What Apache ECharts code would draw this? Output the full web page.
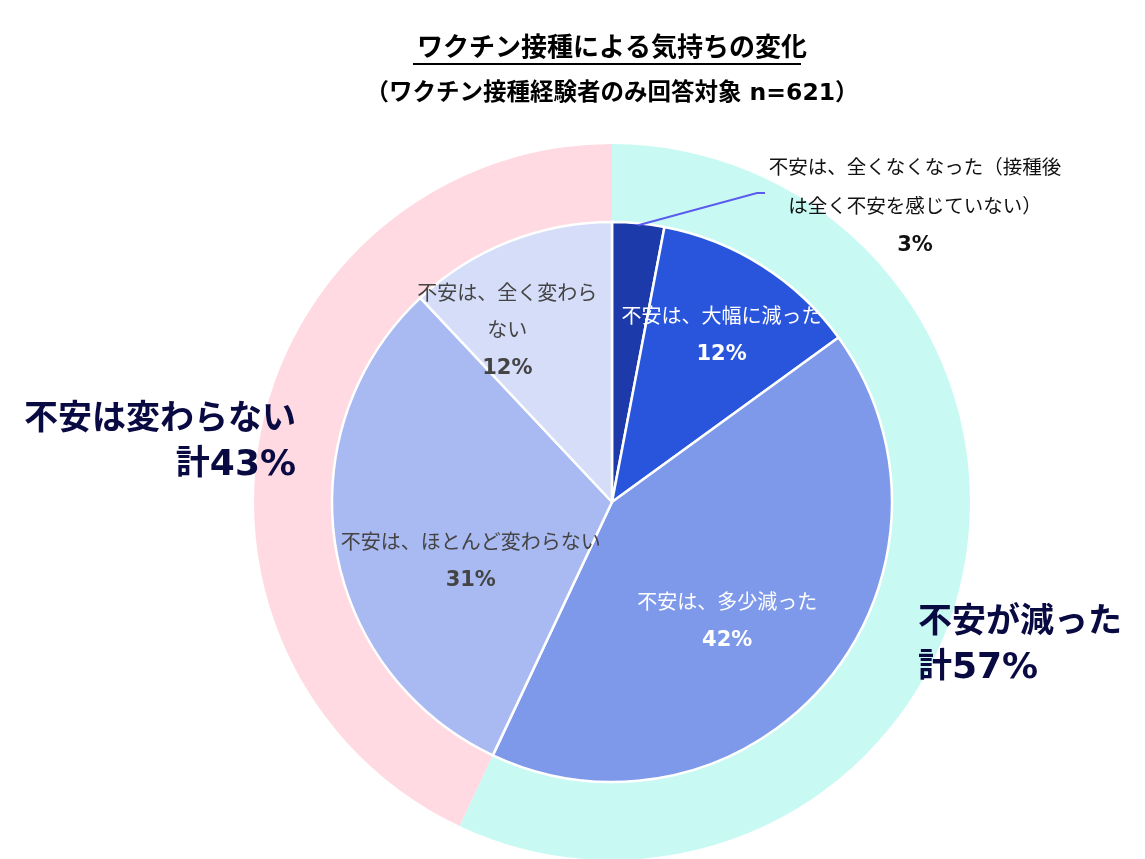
<!DOCTYPE html>
<html><head><meta charset="utf-8">
<script src="https://cdn.jsdelivr.net/npm/echarts@6/dist/echarts.min.js"></script>
<style>html,body{margin:0;padding:0;background:#fff}#c{width:1145px;height:859px}</style>
</head><body><div id="c"></div>
<script>
// ---- data ----
var titleText = 'ワクチン接種による気持ちの変化';
var subTitleText = '（ワクチン接種経験者のみ回答対象 n=621）';
var innerCategories = [
  '不安は、全くなくなった（接種後\nは全く不安を感じていない）',
  '不安は、大幅に減った',
  '不安は、多少減った',
  '不安は、ほとんど変わらない',
  '不安は、全く変わら\nない'
];
var innerValues = [3, 12, 42, 31, 12];
var outerCategories = ['不安が減った', '不安は変わらない'];
var outerValues = [57, 43];

// ---- styles ----
var FONT = "'DejaVu Sans','Noto Sans CJK JP',sans-serif";
var innerColors = ['#1C3AA9', '#2955DD', '#7F99EA', '#A9BAF2', '#D5DDF9'];
var innerTextColors = ['#111111', '#ffffff', '#ffffff', '#444444', '#444444'];
var outerColors = ['#C8FAF3', '#FFDAE2'];
var innerLabelShift = [[0, 0], [33, -45], [5, 29], [0, 38], [-52, -37]];
var CENTER = [612, 502];
var R_IN = 280, R_OUT = 358;
var LABEL0_POS = [915, 207];
var LEADER_END = [[757, 193], [765, 193]];

// leader line start: outer edge of the first slice at its mid angle
var totalInner = innerValues.reduce(function (a, b) { return a + b; }, 0);
var midAng = (innerValues[0] / 2 / totalInner) * 2 * Math.PI;
var leaderStart = [CENTER[0] + (R_IN - 2) * Math.sin(midAng), CENTER[1] - (R_IN - 2) * Math.cos(midAng)];

var innerData = innerCategories.map(function (c, i) {
  var item = {
    name: c, value: innerValues[i],
    itemStyle: { color: innerColors[i] },
    label: {
      position: i === 0 ? 'outside' : 'inside',
      overflow: 'none',
      rich: {
        n: { fontFamily: FONT, fontSize: 20, lineHeight: 37, color: innerTextColors[i], align: 'center' },
        p: { fontFamily: FONT, fontSize: 21, fontWeight: 'bold', lineHeight: 37, color: innerTextColors[i], align: 'center' }
      }
    },
    labelLine: { show: false }
  };
  if (i === 0) {
    item.label.rich.n.lineHeight = 39;
    item.label.rich.n.fontSize = 19.5;
  }
  return item;
});
var outerData = outerCategories.map(function (c, i) {
  return { name: c, value: outerValues[i], itemStyle: { color: outerColors[i] } };
});

var chart = echarts.init(document.getElementById('c'));
chart.setOption({
  animation: false,
  title: {
    text: titleText,
    subtext: subTitleText,
    left: 607, top: 31, textAlign: 'center', itemGap: 20,
    textStyle: { fontFamily: FONT, fontSize: 26, fontWeight: 'bold', color: '#000' },
    subtextStyle: { fontFamily: FONT, fontSize: 23.5, fontWeight: 'bold', color: '#000' }
  },
  graphic: [{
    type: 'line', shape: { x1: 413, y1: 64, x2: 801, y2: 64 },
    style: { stroke: '#000', lineWidth: 2 }, silent: true
  }, {
    type: 'polyline', z: 100, silent: true,
    shape: { points: [leaderStart].concat(LEADER_END) },
    style: { stroke: '#5B5BF0', lineWidth: 2, fill: null }
  }],
  series: [
    {
      type: 'pie', center: CENTER, radius: [R_IN, R_OUT], startAngle: 90, clockwise: true,
      silent: true, data: outerData,
      itemStyle: { borderWidth: 0 },
      label: {
        show: true, position: 'inside', overflow: 'none',
        formatter: '{a|{b}}\n{a|計}{b2|{c}%}',
        rich: {
          a: { fontFamily: FONT, fontSize: 34, fontWeight: 'bold', color: '#0A0A42', lineHeight: 45 },
          b2: { fontFamily: FONT, fontSize: 36, fontWeight: 'bold', color: '#0A0A42', lineHeight: 45 }
        }
      },
      labelLine: { show: false },
      labelLayout: function (p) {
        if (p.dataIndex === 0) return { x: 918, y: 646, align: 'left', verticalAlign: 'middle' };
        return { x: 296, y: 443, align: 'right', verticalAlign: 'middle' };
      }
    },
    {
      type: 'pie', center: CENTER, radius: [0, R_IN], startAngle: 90, clockwise: true,
      silent: true, data: innerData,
      itemStyle: { borderColor: '#ffffff', borderWidth: 2.5 },
      label: {
        show: true,
        formatter: function (p) {
          return p.name.split('\n').map(function (s) { return '{n|' + s + '}'; }).join('\n') + '\n{p|' + p.value + '%}';
        }
      },
      labelLayout: function (p) {
        if (p.dataIndex === 0) {
          return { x: LABEL0_POS[0], y: LABEL0_POS[1], align: 'center', verticalAlign: 'middle' };
        }
        var o = innerLabelShift[p.dataIndex];
        return { dx: o[0], dy: o[1] };
      }
    }
  ]
});
</script></body></html>
